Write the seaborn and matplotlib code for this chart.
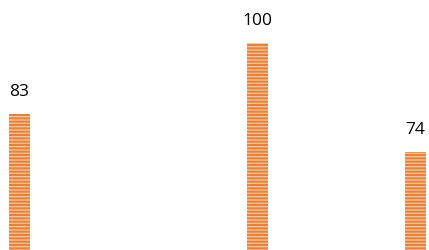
import matplotlib
matplotlib.use("Agg")
import matplotlib.pyplot as plt
import seaborn as sns
import pandas as pd

# Datos
posiciones = [0, 3, 5]
valores = [83, 100, 74]

df = pd.DataFrame({"pos": posiciones, "valor": valores})

sns.set_style("white")
plt.rcParams["font.family"] = ["Open Sans", "DejaVu Sans"]
plt.rcParams["hatch.linewidth"] = 1.5

fig = plt.figure(figsize=(4.29, 2.5), dpi=100)
ax = fig.add_axes([0, 0, 1, 1])

sns.barplot(data=df, x="pos", y="valor", native_scale=True, width=0.133,
            color="#F8CBA8", saturation=1, ax=ax)

for bar in ax.patches:
    bar.set_hatch("-----")
    bar.set_edgecolor("#EE8035")
    bar.set_linewidth(0)

ax.bar_label(ax.containers[0], labels=[str(v) for v in valores],
             padding=10, fontsize=12.5, color="black")

ax.set_xlim(-0.246, 5.17)
ax.set_ylim(50.6, 110.2)
ax.axis("off")

fig.savefig("out.png", dpi=100)
